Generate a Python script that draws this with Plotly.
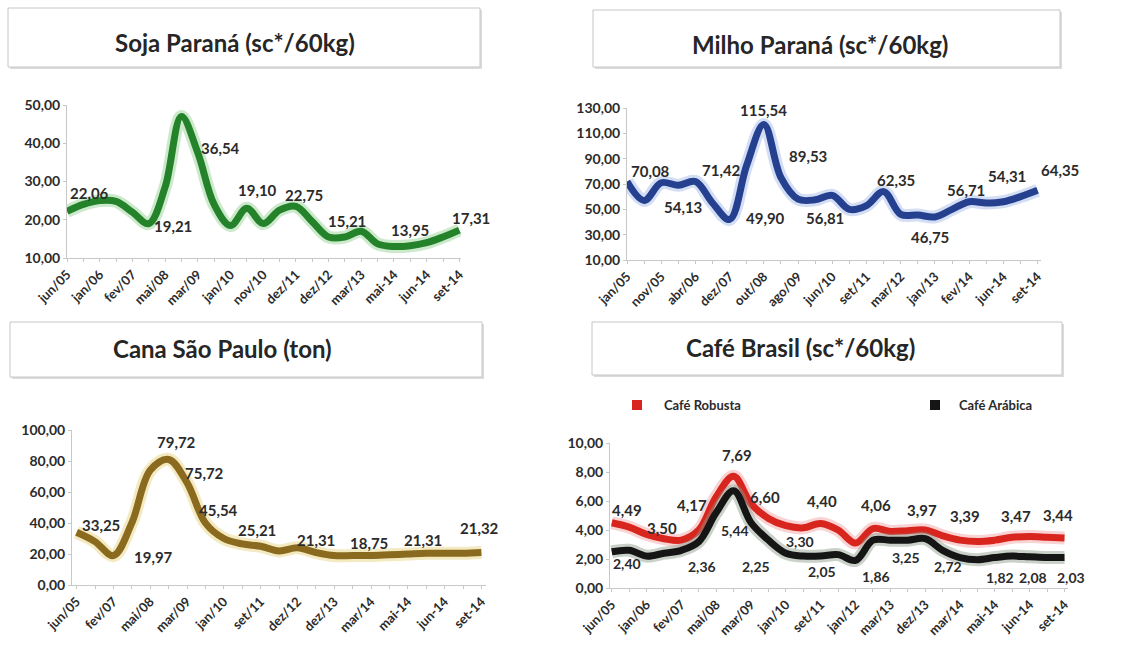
import plotly.graph_objects as go

# --- data -------------------------------------------------------------
soja_ticks = ["jun/05", "jan/06", "fev/07", "mai/08", "mar/09", "jan/10", "nov/10",
              "dez/11", "dez/12", "mar/13", "mai-14", "jun-14", "set-14"]
soja_vals = [22.2, 24.0, 25.0, 24.8, 22.0, 19.0, 28.5, 47.0, 37.5, 24.0, 18.5, 23.0, 19.0,
             22.5, 23.5, 19.5, 15.5, 15.5, 17.0, 13.7, 13.0, 13.2, 14.0, 15.5, 17.3]
soja_labels = ["22,06", "19,21", "46,92", "36,54", "19,10", "22,75", "15,21", "13,95", "17,31"]

milho_ticks = ["jan/05", "nov/05", "abr/06", "dez/07", "out/08", "ago/09", "jun/10",
               "set/11", "mar/12", "jan/13", "fev/14", "jun-14", "set-14"]
milho_vals = [72, 57, 71, 69, 72, 55, 42, 85, 117, 75, 58, 57.5, 61, 50, 53, 64,
              46, 45.5, 44, 50, 56, 55, 56, 60, 65]
milho_labels = ["70,08", "54,13", "71,42", "115,54", "49,90", "89,53", "56,81",
                "62,35", "46,75", "56,71", "54,31", "64,35"]

cana_ticks = ["jun/05", "fev/07", "mai/08", "mar/09", "jan/10", "set/11", "dez/12",
              "dez/13", "mar/14", "mai-14", "jun-14", "set-14"]
cana_vals = [34, 28, 19, 40, 74, 81, 66, 40, 30, 26.5, 25, 22, 24, 21, 19, 19, 19,
             19.5, 20, 20.5, 20.5, 20.5, 21]
cana_labels = ["33,25", "19,97", "79,72", "75,72", "45,54", "25,21", "21,31",
               "18,75", "21,31", "21,32"]

cafe_ticks = ["jun/05", "jan/06", "fev/07", "mai/08", "mar/09", "jan/10", "set/11",
              "jan/12", "mar/13", "dez/13", "mar/14", "mai-14", "jun-14", "set-14"]
robusta_vals = [4.5, 4.2, 3.7, 3.4, 3.3, 4.0, 6.3, 7.7, 5.8, 4.8, 4.3, 4.15, 4.45, 4.0,
                3.1, 4.1, 3.9, 3.95, 4.0, 3.6, 3.3, 3.2, 3.3, 3.5, 3.55, 3.5, 3.45]
arabica_vals = [2.5, 2.6, 2.2, 2.4, 2.6, 3.2, 5.2, 6.7, 4.5, 3.3, 2.4, 2.2, 2.2, 2.3,
                1.9, 3.3, 3.3, 3.3, 3.4, 2.6, 2.1, 1.95, 2.1, 2.2, 2.15, 2.1, 2.1]
robusta_labels = ["4,49", "3,50", "4,17", "7,69", "6,60", "4,40", "4,06", "3,97",
                  "3,39", "3,47", "3,44"]
arabica_labels = ["2,40", "2,36", "5,44", "2,25", "3,30", "2,05", "1,86", "3,25",
                  "2,72", "1,82", "2,08", "2,03"]

# label placement (x in category index, y in axis units)
soja_lpos = [(1.35, 27), (6.5, 18.3), (6.5, 50.4), (9.4, 38.7), (11.65, 27.8),
             (14.5, 26.5), (17.1, 19.6), (21, 17.4), (24.7, 20.4)]
milho_lpos = [(1.4, 80), (3.3, 52), (5.55, 81), (8.0, 128.5), (8.1, 43), (10.6, 92),
              (11.6, 43), (15.7, 73.3), (17.7, 28.5), (19.8, 65.4), (22.2, 76), (25.3, 81)]
cana_lpos = [(1.3, 38.7), (4.2, 18.3), (5.45, 92.5), (6.97, 72), (7.7, 48.4),
             (9.8, 35.5), (13.0, 29), (15.9, 27), (18.8, 29), (21.9, 36.6)]
robusta_lpos = [(0.86, 5.4), (2.87, 4.14), (4.6, 5.75), (7.2, 9.2), (8.8, 6.3),
                (12.1, 6.0), (15.2, 5.75), (17.8, 5.4), (20.3, 4.94), (23.2, 4.94), (25.6, 5.06)]
arabica_lpos = [(0.86, 1.72), (5.16, 1.5), (7.07, 4.0), (8.3, 1.5), (10.8, 3.2),
                (12.1, 1.15), (15.2, 0.8), (16.9, 2.07), (19.3, 1.5), (22.3, 0.69),
                (24.2, 0.69), (26.4, 0.69)]

W, H = 1121, 651
FONT = "Lato"
TXT = "#2b2b2b"


def px(x):
    return x / W


def py(y):
    return 1 - y / H


fig = go.Figure()


def add_line(vals, color, glow, n):
    xs = list(range(len(vals)))
    fig.add_trace(go.Scatter(x=xs, y=vals, mode="lines", line=dict(color=glow, width=13, shape="spline"),
                             opacity=0.45, xaxis="x" + n, yaxis="y" + n, showlegend=False, hoverinfo="skip"))
    fig.add_trace(go.Scatter(x=xs, y=vals, mode="lines", line=dict(color=color, width=7, shape="spline"),
                             xaxis="x" + n, yaxis="y" + n, showlegend=False))


def add_labels(labels, pos, n, xmax, size=15):
    for t, (x, y) in zip(labels, pos):
        shift = 0
        if x > xmax:
            shift = (x - xmax) * 17
            x = xmax
        fig.add_annotation(x=x, y=y, xref="x" + n, yref="y" + n, text=t, showarrow=False, xshift=shift,
                           font=dict(family=FONT, size=size, color=TXT, weight="bold"))


def axes(n, ticks, npts, xdom, xr, ydom, yr, dtick):
    tv = list(range(npts))
    tt = [ticks[i // 2] if i % 2 == 0 and i // 2 < len(ticks) else "" for i in tv]
    key = "" if n == "1" else n
    fig.layout["xaxis" + key] = dict(
        domain=[px(xdom[0]), px(xdom[1])], range=xr, anchor="y" + n, automargin=False,
        tickmode="array", tickvals=tv, ticktext=tt, tickangle=-45,
        showgrid=False, zeroline=False, showline=True, linecolor="#c8c8c8", linewidth=1,
        ticks="outside", ticklen=3, tickcolor="#c8c8c8",
        tickfont=dict(family=FONT, size=13, color=TXT, weight="bold"))
    fig.layout["yaxis" + key] = dict(
        domain=[py(ydom[0]), py(ydom[1])], range=yr, anchor="x" + n, automargin=False,
        tickmode="linear", tick0=yr[0], dtick=dtick, tickformat=".2f",
        showgrid=False, zeroline=False, showline=True, linecolor="#c8c8c8", linewidth=1,
        ticks="outside", ticklen=3, tickcolor="#c8c8c8",
        tickfont=dict(family=FONT, size=14, color=TXT, weight="bold"))


def title_box(x0, y0, x1, y1, text, cx, cy):
    fig.add_shape(type="rect", xref="paper", yref="paper", x0=px(x0 + 2), x1=px(x1 + 2),
                  y0=py(y1 + 2), y1=py(y0 + 2), line=dict(width=0), fillcolor="#dcdcdc", layer="below")
    fig.add_shape(type="rect", xref="paper", yref="paper", x0=px(x0), x1=px(x1),
                  y0=py(y1), y1=py(y0), line=dict(color="#c6c6c6", width=1), fillcolor="white", layer="below")
    fig.add_annotation(x=px(cx), y=py(cy), xref="paper", yref="paper", text=text, showarrow=False,
                       xanchor="center", yanchor="middle",
                       font=dict(family=FONT, size=24, color="#262626", weight="bold"))


# Soja
add_line(soja_vals, "#23822a", "#8fd08f", "1")
axes("1", soja_ticks, len(soja_vals), (67, 461), [0, 24.1], (258, 105), [10, 50], 10)
add_labels(soja_labels, soja_lpos, "1", 24.1)
title_box(8, 8, 480, 67, "Soja Paraná (sc*/60kg)", 235, 43)

# Milho
add_line(milho_vals, "#24408f", "#9fb8e8", "2")
axes("2", milho_ticks, len(milho_vals), (627, 1041), [0, 24.2], (260, 108), [10, 130], 20)
add_labels(milho_labels, milho_lpos, "2", 24.2)
title_box(593, 10, 1060, 67, "Milho Paraná (sc*/60kg)", 820, 44)

# Cana
add_line(cana_vals, "#8a6a1e", "#e8d27a", "3")
axes("3", cana_ticks, len(cana_vals), (72, 486), [-0.25, 22.25], (585, 430), [0, 100], 20)
add_labels(cana_labels, cana_lpos, "3", 22.25)
title_box(10, 322, 482, 377, "Cana São Paulo (ton)", 223, 348)

# Café
add_line(robusta_vals, "#d8261f", "#f2a0a0", "4")
add_line(arabica_vals, "#151515", "#8a9a8a", "4")
axes("4", cafe_ticks, len(robusta_vals), (610, 1068), [-0.1, 26.2], (588, 443), [0, 10], 2)
add_labels(robusta_labels, robusta_lpos, "4", 26.2)
add_labels(arabica_labels, arabica_lpos, "4", 26.2, size=14)
title_box(592, 322, 1062, 375, "Café Brasil (sc*/60kg)", 800, 347)

# legend for café
for name, color, xs, xt in [("Café Robusta", "#d8261f", 637, 662), ("Café Arábica", "#151515", 935, 957)]:
    fig.add_shape(type="rect", xref="paper", yref="paper", x0=px(xs - 5), x1=px(xs + 5),
                  y0=py(410), y1=py(400), fillcolor=color, line=dict(width=0))
    fig.add_annotation(x=px(xt), y=py(405), xref="paper", yref="paper", text=name, showarrow=False,
                       xanchor="left", yanchor="middle",
                       font=dict(family=FONT, size=13, color=TXT, weight="bold"))

fig.update_layout(width=W, height=H, margin=dict(l=0, r=0, t=0, b=0),
                  paper_bgcolor="white", plot_bgcolor="white", separators=",.",
                  showlegend=False)

fig.write_html("out.html", config={"displayModeBar": False},
               post_script="document.body.style.margin='0';")
